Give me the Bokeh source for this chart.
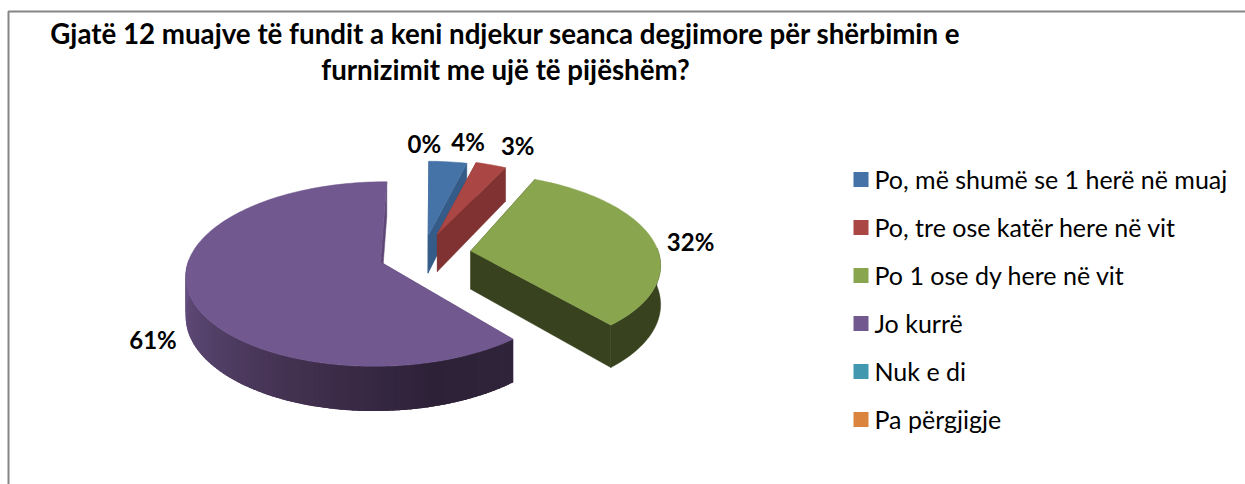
from math import sin, cos, radians
from bokeh.plotting import figure
from bokeh.core.properties import value
from bokeh.embed import file_html
from bokeh.resources import INLINE

TITLE_LINES = ["Gjatë 12 muajve të fundit a keni ndjekur seanca degjimore për shërbimin e",
               "furnizimit me ujë të pijëshëm?"]
categories = ["Po, më shumë se 1 herë në muaj", "Po, tre ose katër here në vit",
              "Po 1 ose dy here në vit", "Jo kurrë", "Nuk e di", "Pa përgjigje"]
values_pct = [3.8, 3.2, 32.4, 60.6, 0.0, 0.0]
top_colors = ["#4572A7", "#AA4643", "#89A54E", "#71588F", "#4198AF", "#DB843D"]
wall_colors = ["#355C88", "#7F3231", "#38421F", "#5F4878", "#2F7084", "#A8622B"]

FIRST_ANGLE = 0.5
CX, CY, RX, RY, K, DEPTH = 422.0, 255.0, 195.4, 89.0, 0.13, 38.5
EXPLODE = [0.23, 0.23, 0.25, 0.225, 0.0, 0.0]
X_SCALE = [0.95, 0.88, 0.965, 0.975, 1, 1]
V_NUDGE = [0, 0.03, 0.025, 0, 0, 0]
SWEEP_ADJ = [(0, 0), (1.6, 2), (-1.3, -2.8), (-2.3, 0), (0, 0), (0, 0)]
FONT = "Lato"

W, H = 1245, 484
p = figure(width=W, height=H, x_range=(0, W), y_range=(H, 0),
           toolbar_location=None, output_backend="svg", min_border=0,
           outline_line_color=None, background_fill_color="white")
p.xaxis.visible = False
p.yaxis.visible = False
p.xgrid.visible = False
p.ygrid.visible = False


def project(u, v, drop=0.0):
    w = 1 + K * v
    return CX + RX * u / w, CY - RY * v / w + DEPTH * drop / w


def hexmix(a, b, t):
    ca = [int(a[i:i + 2], 16) for i in (1, 3, 5)]
    cb = [int(b[i:i + 2], 16) for i in (1, 3, 5)]
    return "#%02x%02x%02x" % tuple(round(x + (y - x) * t) for x, y in zip(ca, cb))


PURPLE_STOPS = [(140, "#2F2439"), (165, "#2D2138"), (200, "#42304F"), (235, "#55426A"), (275, "#695186")]


def rim_color(theta):
    t = max(theta, 140)
    for (a, ca), (b, cb) in zip(PURPLE_STOPS, PURPLE_STOPS[1:]):
        if t <= b:
            return hexmix(ca, cb, (t - a) / (b - a))
    return PURPLE_STOPS[-1][1]


def arc(start, end, n=None):
    n = n or max(2, int((end - start) / 1.5))
    return [start + (end - start) * j / n for j in range(n + 1)]


total = sum(values_pct)
angle = FIRST_ANGLE
slices = []
for i, val in enumerate(values_pct):
    span = 360 * val / total
    slices.append((i, angle, angle + span))
    angle += span

label_x, label_y, label_text = [], [], []
# label placement: radial factor from the slice apex, then a pixel nudge
label_push = {0: (1.30, 15, -1), 1: (1.26, 20, -3), 2: (1.12, 15, 1), 3: (1.17, -1, 42), 5: (1.25, 0, -16)}

for i, a0, a1 in slices:
    mid = (a0 + a1) / 2
    ox = EXPLODE[i] * sin(radians(mid))
    oy = EXPLODE[i] * cos(radians(mid)) + V_NUDGE[i]
    sx = X_SCALE[i]
    a0 += SWEEP_ADJ[i][0]
    a1 += SWEEP_ADJ[i][1]

    def pt(theta, drop=0.0, r=1.0):
        return project(ox + sx * r * sin(radians(theta)), oy + r * cos(radians(theta)), drop)

    if a1 > a0:
        for theta in sorted((a0, a1), key=lambda t: cos(radians(t)), reverse=True):
            pts = [pt(theta, 0, 0), pt(theta, 0), pt(theta, 1), pt(theta, 1, 0)]
            col = wall_colors[i]
            p.patch([q[0] for q in pts], [q[1] for q in pts], fill_color=col, line_color=col, line_width=0.5)
        th = arc(a0, a1)
        front = [t for t in th if cos(radians(t)) < 0.05]
        if len(front) > 1:
            if i == 3:
                for t0, t1 in zip(front, front[1:]):
                    t2 = min(t1 + 2.0, front[-1])
                    pts = [pt(t0), pt(t2), pt(t2, 1), pt(t0, 1)]
                    p.patch([q[0] for q in pts], [q[1] for q in pts],
                            fill_color=rim_color((t0 + t1) / 2), line_color=None)
            else:
                pts = [pt(t) for t in front] + [pt(t, 1) for t in reversed(front)]
                p.patch([q[0] for q in pts], [q[1] for q in pts], fill_color=wall_colors[i],
                        line_color=wall_colors[i], line_width=0.5)
        pts = [pt(a0, 0, 0)] + [pt(t) for t in th]
        p.patch([q[0] for q in pts], [q[1] for q in pts], fill_color=top_colors[i], line_color=top_colors[i], line_width=0.5)
    if i in label_push:
        r, dx, dy = label_push[i]
        lx, ly = pt(mid, 0, r)
        label_x.append(lx + dx)
        label_y.append(ly + dy)
        label_text.append(f"{round(values_pct[i])}%")

p.text(label_x, label_y, text=label_text, text_font=value(FONT), text_font_style="bold",
       text_font_size=value("24px"), text_color="#000000", text_align="center", text_baseline="middle")

p.text([505, 505], [32.5, 69], text=TITLE_LINES, text_font=value(FONT), text_font_style="bold",
       text_font_size=value("27.7px"), text_color="#000000", text_align="center", text_baseline="middle")

LEG_X, LEG_Y, LEG_STEP = 860.5, 179, 48
ly = [LEG_Y + LEG_STEP * j for j in range(len(categories))]
p.rect([LEG_X] * len(categories), ly, width=15, height=15, fill_color=top_colors, line_color=None)
p.text([874] * len(categories), [y - 1 for y in ly], text=categories, text_font=value(FONT), text_font_size=value("25px"),
       text_color="#000000", text_align="left", text_baseline="middle")

p.line([8, 8, W], [H, 11, 11], line_color="#868686", line_width=2)

open("out.html", "w").write(file_html(p, INLINE))
